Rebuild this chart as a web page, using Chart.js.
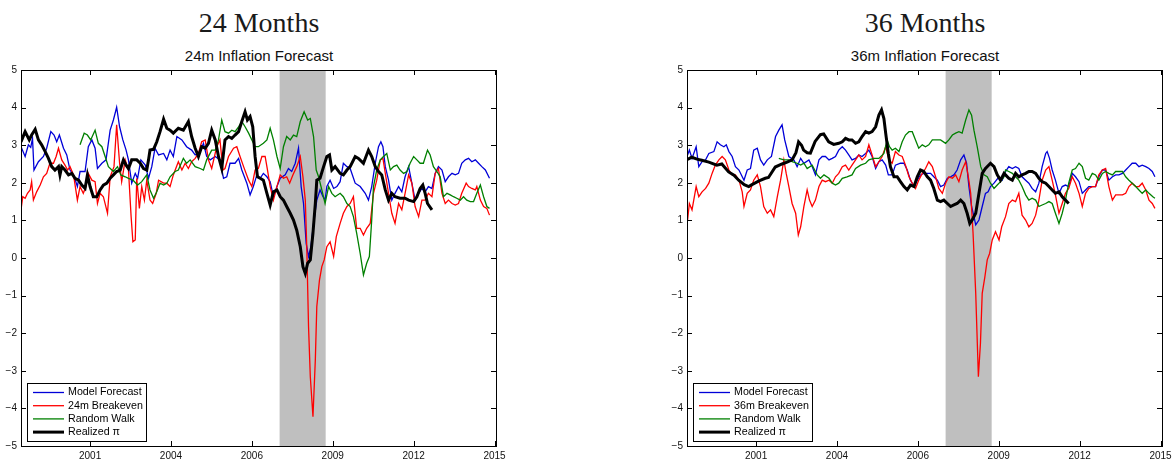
<!DOCTYPE html>
<html>
<head>
<meta charset="utf-8">
<script src="https://cdn.jsdelivr.net/npm/chart.js@4.4.1/dist/chart.umd.min.js"></script>
<style>
  body { margin: 0; background: #fff; width: 1175px; height: 462px; position: relative; overflow: hidden; }
  canvas { position: absolute; top: 0; }
  .bigTitle { position: absolute; top: 7px; width: 300px; margin-left: -150px; text-align: center;
              font-family: "Liberation Serif", serif; font-size: 28px; line-height: 32px; color: #1a1a1a; }
  .smallTitle { position: absolute; top: 48px; width: 300px; margin-left: -150px; text-align: center;
                font-family: "Liberation Sans", Arial, sans-serif; font-size: 15px; line-height: 16px; color: #111; }
</style>
</head>
<body>
<div class="bigTitle" style="left:259px">24 Months</div>
<div class="smallTitle" style="left:259px">24m Inflation Forecast</div>
<div class="bigTitle" style="left:925px">36 Months</div>
<div class="smallTitle" style="left:925px">36m Inflation Forecast</div>
<canvas id="chart24" width="509" height="462" style="left:0"></canvas>
<canvas id="chart36" width="509" height="462" style="left:666px"></canvas>
<script>
// x axis: decimal years; MATLAB datetick put the ticks every 1000 days
const xTickValues = [2001.40, 2004.14, 2006.88, 2009.62, 2012.36, 2015.10];
const xTickLabels = ['2001', '2004', '2006', '2009', '2012', '2015'];
const yTickValues = [-5, -4, -3, -2, -1, 0, 1, 2, 3, 4, 5];
const recession = [2007.82, 2009.38];

const labels24 = ['Model Forecast', '24m Breakeven', 'Random Walk', 'Realized \u03c0'];
const labels36 = ['Model Forecast', '36m Breakeven', 'Random Walk', 'Realized \u03c0'];

// ---- 24 month horizon ----
const model24 = [[1999.06,2.96],[1999.20,2.70],[1999.31,3.01],[1999.39,2.94],[1999.45,3.18],[1999.50,2.34],[1999.65,2.56],[1999.82,2.70],[1999.93,2.92],[2000.07,3.36],[2000.18,3.27],[2000.27,3.09],[2000.36,3.27],[2000.50,2.92],[2000.61,2.74],[2000.72,2.34],[2000.84,2.21],[2000.97,1.90],[2001.06,2.30],[2001.23,2.30],[2001.34,2.96],[2001.46,3.14],[2001.57,2.92],[2001.65,2.38],[2001.80,2.52],[2001.94,2.61],[2002.08,3.40],[2002.19,3.67],[2002.30,4.01],[2002.40,3.49],[2002.51,3.14],[2002.62,2.87],[2002.70,2.61],[2002.81,1.99],[2002.93,2.25],[2003.01,2.12],[2003.12,2.61],[2003.27,2.47],[2003.38,2.12],[2003.49,2.43],[2003.60,2.92],[2003.72,2.74],[2003.89,2.78],[2004.00,2.61],
  [2004.11,2.87],[2004.22,2.70],[2004.34,3.23],[2004.51,3.14],[2004.67,2.96],[2004.84,2.87],[2004.96,2.74],[2005.13,2.83],[2005.24,3.05],[2005.35,2.70],[2005.47,2.61],[2005.64,2.70],[2005.80,2.61],[2005.92,2.12],[2006.03,2.16],[2006.14,2.52],[2006.31,2.52],[2006.43,2.65],[2006.54,2.34],[2006.71,1.99],[2006.82,1.68],[2006.93,1.90],[2007.05,2.21],[2007.16,2.12],[2007.27,2.25],[2007.39,2.16],[2007.50,2.03],[2007.61,1.63],[2007.73,1.90],[2007.84,2.12],[2008.01,2.21],[2008.12,2.38],[2008.23,2.30],[2008.35,2.52],[2008.46,2.92],[2008.55,1.90],[2008.63,1.45],[2008.72,0.39],[2008.80,0.04],[2008.88,0.30],[2008.97,0.92],[2009.08,1.54],[2009.19,1.81],[2009.29,1.63],[2009.36,1.54],[2009.42,1.90],[2009.53,2.07],[2009.65,1.85],[2009.76,1.90],
  [2009.87,2.03],[2009.98,2.52],[2010.10,2.43],[2010.21,2.38],[2010.38,1.99],[2010.55,1.90],[2010.72,1.72],[2010.83,1.54],[2010.94,1.90],[2011.06,2.52],[2011.17,2.96],[2011.25,3.09],[2011.32,2.96],[2011.40,2.43],[2011.51,2.07],[2011.62,1.54],[2011.73,1.72],[2011.85,1.90],[2011.96,1.76],[2012.07,2.16],[2012.19,2.43],[2012.30,1.99],[2012.41,1.54],[2012.53,1.72],[2012.64,1.85],[2012.75,1.76],[2012.86,1.90],[2012.98,1.85],[2013.09,2.25],[2013.20,2.43],[2013.32,2.34],[2013.43,2.03],[2013.54,2.16],[2013.66,2.25],[2013.77,2.21],[2013.88,2.25],[2013.99,2.52],[2014.11,2.61],[2014.22,2.65],[2014.33,2.56],[2014.45,2.61],[2014.56,2.52],[2014.67,2.43],[2014.79,2.34],[2014.93,2.12]];

const breakeven24 = [[1999.06,1.28],[1999.12,1.63],[1999.20,1.59],[1999.28,1.72],[1999.37,1.81],[1999.42,2.03],[1999.48,1.54],[1999.59,1.76],[1999.71,1.94],[1999.82,2.16],[1999.93,2.25],[2000.04,2.52],[2000.16,2.52],[2000.25,2.70],[2000.33,2.92],[2000.44,2.61],[2000.55,2.47],[2000.64,2.34],[2000.72,2.43],[2000.84,2.21],[2000.97,1.54],[2001.06,1.90],[2001.17,1.72],[2001.26,1.90],[2001.34,2.25],[2001.46,2.07],[2001.57,2.03],[2001.65,1.45],[2001.74,1.72],[2001.85,1.63],[2001.99,1.19],[2002.08,2.16],[2002.21,2.43],[2002.30,3.54],[2002.40,2.52],[2002.47,2.03],[2002.59,2.61],[2002.70,2.34],[2002.79,1.10],[2002.85,0.43],[2002.93,0.48],[2002.98,2.12],[2003.07,1.32],[2003.15,1.90],[2003.24,1.54],[2003.32,2.07],[2003.43,1.54],[2003.52,1.45],[2003.64,1.72],[2003.72,2.07],[2003.89,1.99],[2004.00,1.99],
  [2004.11,1.90],[2004.22,2.21],[2004.39,2.56],[2004.51,2.34],[2004.62,2.52],[2004.73,2.38],[2004.84,2.56],[2004.96,2.65],[2005.07,2.78],[2005.18,3.09],[2005.30,3.14],[2005.41,2.61],[2005.52,2.38],[2005.69,2.96],[2005.80,3.14],[2005.90,2.34],[2005.97,2.38],[2006.09,2.70],[2006.26,2.92],[2006.37,2.96],[2006.48,2.70],[2006.60,2.43],[2006.77,2.07],[2006.88,1.90],[2006.99,2.34],[2007.10,2.38],[2007.22,2.70],[2007.33,2.70],[2007.41,2.34],[2007.50,1.90],[2007.61,1.54],[2007.73,1.90],[2007.84,2.21],[2007.95,2.12],[2008.06,2.16],[2008.16,1.99],[2008.27,2.21],[2008.40,2.43],[2008.52,2.70],[2008.61,2.16],[2008.69,1.54],[2008.74,0.30],[2008.80,-1.83],[2008.86,-3.16],[2008.95,-4.22],[2009.03,-2.71],[2009.08,-1.29],[2009.17,-0.59],[2009.25,-0.23],[2009.33,-0.05],[2009.42,0.30],[2009.53,0.43],[2009.65,0.04],[2009.74,0.57],
  [2009.87,0.92],[2009.98,1.19],[2010.10,1.37],[2010.21,1.45],[2010.32,1.63],[2010.43,0.79],[2010.55,0.79],[2010.66,0.61],[2010.77,0.79],[2010.89,0.92],[2011.00,1.72],[2011.11,2.07],[2011.23,2.61],[2011.32,2.65],[2011.40,2.25],[2011.51,1.72],[2011.62,1.19],[2011.73,0.92],[2011.85,1.45],[2011.96,1.28],[2012.07,1.72],[2012.19,2.21],[2012.30,1.99],[2012.41,1.37],[2012.53,1.10],[2012.64,1.54],[2012.75,1.54],[2012.86,1.72],[2012.98,1.63],[2013.09,2.25],[2013.20,2.38],[2013.32,1.72],[2013.43,1.45],[2013.54,1.54],[2013.66,1.45],[2013.77,1.41],[2013.88,1.45],[2013.99,1.72],[2014.14,1.99],[2014.22,1.90],[2014.33,1.85],[2014.45,1.81],[2014.50,1.90],[2014.62,1.54],[2014.73,1.37],[2014.84,1.32],[2014.93,1.14]];

const randomWalk24 = [[2001.06,3.01],[2001.20,3.32],[2001.31,3.27],[2001.42,3.14],[2001.57,3.40],[2001.68,3.05],[2001.80,2.96],[2001.91,2.70],[2002.02,2.43],[2002.19,2.30],[2002.33,2.43],[2002.44,2.21],[2002.59,2.16],[2002.70,2.12],[2002.85,2.07],[2003.01,1.94],[2003.15,2.03],[2003.32,2.21],[2003.43,1.81],[2003.55,1.59],[2003.66,1.76],[2003.77,1.99],[2003.89,1.94],[2004.00,1.99],
  [2004.11,2.16],[2004.28,2.30],[2004.39,2.34],[2004.56,2.65],[2004.67,2.52],[2004.79,2.61],[2004.96,2.43],[2005.13,2.38],[2005.24,2.34],[2005.35,2.61],[2005.52,2.87],[2005.64,2.87],[2005.75,3.14],[2005.86,3.67],[2005.97,3.36],[2006.09,3.32],[2006.20,3.40],[2006.31,3.36],[2006.43,3.49],[2006.54,3.63],[2006.65,3.49],[2006.77,3.32],[2006.88,3.14],[2006.99,2.96],[2007.10,2.96],[2007.27,3.05],[2007.39,3.14],[2007.50,3.45],[2007.61,3.14],[2007.73,2.70],[2007.84,2.38],[2007.95,2.96],[2008.06,3.23],[2008.18,3.14],[2008.29,3.27],[2008.40,3.23],[2008.52,3.63],[2008.65,3.89],[2008.77,3.67],[2008.86,3.71],[2008.97,3.23],[2009.06,2.34],[2009.14,2.16],[2009.25,1.81],[2009.36,1.45],[2009.48,1.90],[2009.59,1.72],[2009.70,1.63],
  [2009.87,1.72],[2009.98,1.63],[2010.10,1.45],[2010.21,1.37],[2010.32,1.10],[2010.43,0.66],[2010.55,0.12],[2010.66,-0.45],[2010.77,-0.14],[2010.86,0.04],[2010.94,1.01],[2011.00,1.90],[2011.11,2.34],[2011.23,2.61],[2011.34,2.70],[2011.45,2.78],[2011.57,2.34],[2011.68,2.43],[2011.79,2.47],[2011.90,2.34],[2012.02,2.25],[2012.13,2.30],[2012.24,2.52],[2012.36,2.70],[2012.47,2.61],[2012.58,2.52],[2012.69,2.52],[2012.83,2.87],[2012.92,2.74],[2013.03,2.43],[2013.15,2.30],[2013.26,2.16],[2013.37,1.63],[2013.49,1.72],[2013.60,1.68],[2013.71,1.63],[2013.82,1.59],[2013.94,1.54],[2014.05,1.63],[2014.16,1.54],[2014.28,1.50],[2014.39,1.50],[2014.50,1.72],[2014.62,1.94],[2014.73,1.63],[2014.84,1.37],[2014.93,1.32]];

const realized24 = [[1999.06,3.09],[1999.20,3.36],[1999.34,3.14],[1999.42,3.27],[1999.54,3.42],[1999.65,3.14],[1999.76,3.01],[1999.88,2.83],[1999.99,2.65],[2000.10,2.43],[2000.21,2.34],[2000.33,2.43],[2000.38,2.21],[2000.44,2.43],[2000.55,2.34],[2000.67,2.21],[2000.78,2.25],[2000.89,2.12],[2001.01,2.07],[2001.12,1.94],[2001.23,1.85],[2001.31,2.21],[2001.40,1.90],[2001.51,1.63],[2001.63,1.63],[2001.74,1.81],[2001.85,1.94],[2001.97,1.99],[2002.08,2.12],[2002.19,2.21],[2002.30,2.30],[2002.42,2.34],[2002.53,2.61],[2002.62,2.47],[2002.70,2.38],[2002.81,2.61],[2002.98,2.61],[2003.10,2.52],[2003.21,2.38],[2003.32,2.34],[2003.38,2.61],[2003.43,2.87],[2003.55,2.89],[2003.66,3.09],[2003.77,3.36],[2003.89,3.69],[2004.00,3.45],
  [2004.11,3.40],[2004.22,3.32],[2004.39,3.45],[2004.56,3.40],[2004.73,3.63],[2004.84,3.23],[2004.96,2.92],[2005.07,2.70],[2005.18,2.96],[2005.30,2.92],[2005.41,3.05],[2005.52,3.40],[2005.64,3.14],[2005.75,2.70],[2005.86,2.38],[2005.97,3.14],[2006.09,3.23],[2006.20,3.18],[2006.31,3.27],[2006.43,3.36],[2006.54,3.63],[2006.65,3.89],[2006.73,3.67],[2006.82,3.76],[2006.91,3.49],[2006.99,2.70],[2007.07,2.16],[2007.16,2.12],[2007.27,2.07],[2007.39,1.72],[2007.50,1.41],[2007.61,1.76],[2007.73,1.81],[2007.84,1.63],[2007.95,1.54],[2008.06,1.37],[2008.18,1.19],[2008.29,1.01],[2008.40,0.74],[2008.52,0.30],[2008.61,-0.23],[2008.69,-0.41],[2008.77,-0.14],[2008.86,-0.05],[2008.95,0.66],[2009.03,1.45],[2009.08,2.07],[2009.19,2.12],[2009.31,2.43],[2009.42,2.70],[2009.51,2.74],[2009.59,2.34],[2009.70,2.43],
  [2009.87,2.25],[2009.98,2.21],[2010.10,2.34],[2010.21,2.43],[2010.38,2.70],[2010.49,2.65],[2010.66,2.52],[2010.83,2.87],[2010.94,2.70],[2011.06,2.43],[2011.17,2.30],[2011.28,2.21],[2011.40,1.81],[2011.51,1.54],[2011.62,1.72],[2011.73,1.63],[2011.90,1.59],[2012.07,1.59],[2012.19,1.54],[2012.36,1.50],[2012.47,1.63],[2012.58,1.85],[2012.67,1.94],[2012.75,1.72],[2012.83,1.45],[2012.98,1.28]];

// ---- 36 month horizon ----
const model36 = [[1999.08,2.74],[1999.14,2.87],[1999.23,2.65],[1999.37,2.96],[1999.46,2.43],[1999.57,2.56],[1999.69,2.61],[1999.80,2.78],[1999.97,2.83],[2000.08,3.09],[2000.19,3.01],[2000.31,2.96],[2000.39,3.01],[2000.48,2.83],[2000.59,2.70],[2000.70,2.43],[2000.82,2.34],[2000.99,2.07],[2001.10,2.34],[2001.21,2.38],[2001.32,2.87],[2001.44,2.92],[2001.55,2.61],[2001.66,2.47],[2001.78,2.61],[2001.92,2.70],[2002.06,3.23],[2002.17,3.40],[2002.28,3.54],[2002.37,3.14],[2002.51,2.70],[2002.68,2.61],[2002.79,2.43],[2002.91,2.65],[2003.02,2.52],[2003.19,2.61],[2003.30,2.43],[2003.41,2.21],[2003.53,2.61],[2003.64,2.70],[2003.75,2.70],[2003.87,2.61],[2003.98,2.65],
  [2004.09,2.70],[2004.20,2.87],[2004.32,2.96],[2004.43,2.87],[2004.54,2.74],[2004.65,2.61],[2004.77,2.65],[2004.88,2.74],[2004.99,2.70],[2005.11,2.78],[2005.22,2.87],[2005.33,2.70],[2005.45,2.38],[2005.56,2.56],[2005.67,2.61],[2005.79,2.47],[2005.88,2.21],[2006.01,2.21],[2006.12,2.47],[2006.29,2.52],[2006.41,2.52],[2006.52,2.34],[2006.63,2.07],[2006.75,1.90],[2006.86,2.07],[2006.97,2.21],[2007.08,2.25],[2007.20,2.25],[2007.31,2.25],[2007.42,2.16],[2007.54,2.07],[2007.65,1.90],[2007.76,1.94],[2007.88,2.12],[2007.99,2.16],[2008.10,2.21],[2008.21,2.34],[2008.33,2.61],[2008.44,2.74],[2008.53,2.52],[2008.61,1.90],[2008.70,1.37],[2008.78,1.10],[2008.84,0.88],[2008.95,1.01],[2009.06,1.37],[2009.17,1.72],[2009.26,1.76],[2009.34,1.90],[2009.46,1.99],[2009.63,2.16],[2009.74,2.07],
  [2009.85,2.30],[2009.96,2.43],[2010.08,2.38],[2010.19,2.43],[2010.30,2.38],[2010.41,2.16],[2010.53,2.07],[2010.64,1.99],[2010.75,1.85],[2010.87,1.76],[2010.98,1.99],[2011.09,2.43],[2011.21,2.78],[2011.26,2.83],[2011.34,2.65],[2011.43,2.34],[2011.54,2.07],[2011.66,1.72],[2011.77,1.90],[2011.88,1.94],[2011.99,1.90],[2012.11,2.25],[2012.22,2.16],[2012.34,2.03],[2012.45,1.72],[2012.56,1.81],[2012.67,1.90],[2012.79,1.90],[2012.90,1.90],[2013.01,2.16],[2013.13,2.34],[2013.24,2.34],[2013.35,2.07],[2013.47,2.16],[2013.58,2.21],[2013.69,2.21],[2013.81,2.25],[2013.92,2.34],[2014.03,2.43],[2014.14,2.52],[2014.26,2.52],[2014.37,2.43],[2014.48,2.47],[2014.60,2.43],[2014.71,2.38],[2014.82,2.30],[2014.91,2.16]];

const breakeven36 = [[1999.08,1.01],[1999.14,1.45],[1999.23,1.28],[1999.37,1.90],[1999.46,1.63],[1999.57,1.76],[1999.69,1.85],[1999.80,1.99],[1999.91,2.25],[2000.02,2.47],[2000.14,2.61],[2000.25,2.70],[2000.36,2.61],[2000.48,2.34],[2000.59,2.21],[2000.70,2.21],[2000.82,2.07],[2000.93,1.76],[2000.99,1.37],[2001.10,1.72],[2001.21,1.81],[2001.32,2.07],[2001.44,2.21],[2001.55,1.90],[2001.66,1.37],[2001.78,1.19],[2001.89,1.28],[2002.00,1.10],[2002.12,1.63],[2002.23,2.07],[2002.34,2.61],[2002.42,2.25],[2002.51,1.90],[2002.62,1.45],[2002.74,1.19],[2002.83,0.61],[2002.91,0.83],[2003.02,1.37],[2003.13,1.81],[2003.21,1.54],[2003.30,1.37],[2003.41,1.54],[2003.53,1.90],[2003.64,2.07],[2003.75,2.03],[2003.87,2.07],[2003.98,1.99],
  [2004.09,2.16],[2004.20,2.25],[2004.32,2.43],[2004.43,2.47],[2004.54,2.34],[2004.65,2.47],[2004.77,2.61],[2004.88,2.74],[2004.99,2.61],[2005.11,2.70],[2005.22,3.01],[2005.33,2.74],[2005.45,2.43],[2005.56,2.56],[2005.67,2.70],[2005.79,2.96],[2005.90,2.61],[2006.01,2.52],[2006.12,2.83],[2006.24,2.74],[2006.35,2.70],[2006.46,2.47],[2006.58,2.16],[2006.69,1.99],[2006.80,1.85],[2006.91,2.07],[2007.03,2.25],[2007.14,2.38],[2007.25,2.56],[2007.37,2.43],[2007.48,2.16],[2007.59,1.85],[2007.71,1.72],[2007.82,1.99],[2007.93,2.16],[2008.05,2.12],[2008.16,2.21],[2008.27,2.03],[2008.38,2.34],[2008.50,2.56],[2008.59,2.16],[2008.67,1.72],[2008.75,0.66],[2008.84,-0.94],[2008.93,-3.16],[2009.00,-2.27],[2009.06,-0.94],[2009.15,-0.50],[2009.23,-0.05],[2009.31,0.12],[2009.40,0.48],[2009.51,0.70],[2009.63,0.48],[2009.72,0.83],
  [2009.85,1.10],[2009.96,1.45],[2010.08,1.54],[2010.19,1.50],[2010.30,1.72],[2010.41,1.14],[2010.53,1.01],[2010.64,0.83],[2010.75,0.92],[2010.87,1.14],[2010.98,1.54],[2011.09,2.07],[2011.21,2.34],[2011.32,2.43],[2011.43,2.07],[2011.54,1.68],[2011.66,1.19],[2011.77,1.45],[2011.88,1.72],[2011.99,1.85],[2012.11,2.16],[2012.22,1.99],[2012.34,1.72],[2012.45,1.37],[2012.56,1.72],[2012.67,1.85],[2012.79,1.90],[2012.90,1.90],[2013.01,2.21],[2013.13,2.34],[2013.24,2.38],[2013.35,1.90],[2013.47,1.54],[2013.58,1.68],[2013.69,1.68],[2013.81,1.68],[2013.92,1.72],[2014.03,1.90],[2014.14,1.99],[2014.26,1.90],[2014.37,1.90],[2014.48,1.99],[2014.60,1.81],[2014.71,1.54],[2014.82,1.45],[2014.91,1.32]];

const randomWalk36 = [[2002.17,2.65],[2002.34,2.61],[2002.51,2.61],[2002.62,2.56],[2002.79,2.52],[2002.91,2.47],[2003.02,2.52],[2003.13,2.38],[2003.30,2.47],[2003.47,2.21],[2003.58,2.12],[2003.70,2.21],[2003.87,2.12],[2003.98,1.99],
  [2004.09,1.94],[2004.20,1.99],[2004.32,2.12],[2004.48,2.16],[2004.65,2.21],[2004.77,2.38],[2004.94,2.47],[2005.11,2.52],[2005.22,2.61],[2005.39,2.65],[2005.56,2.65],[2005.73,2.78],[2005.84,3.14],[2005.92,2.96],[2006.01,2.87],[2006.12,2.92],[2006.24,2.83],[2006.35,3.09],[2006.46,3.27],[2006.58,3.36],[2006.69,3.36],[2006.80,3.14],[2006.91,2.92],[2007.03,3.01],[2007.14,2.96],[2007.25,3.01],[2007.37,3.14],[2007.48,3.14],[2007.65,3.14],[2007.82,3.05],[2007.93,3.14],[2008.05,3.27],[2008.16,3.32],[2008.27,3.36],[2008.38,3.32],[2008.50,3.67],[2008.61,3.94],[2008.70,3.80],[2008.78,3.40],[2008.89,2.96],[2009.01,2.43],[2009.12,2.21],[2009.23,2.16],[2009.34,1.99],[2009.46,1.85],[2009.57,1.94],[2009.68,2.03],[2009.80,2.16],
  [2009.85,2.34],[2009.96,2.30],[2010.08,2.25],[2010.19,2.16],[2010.30,2.07],[2010.41,1.90],[2010.53,1.68],[2010.64,1.54],[2010.75,1.59],[2010.87,1.54],[2010.98,1.37],[2011.09,1.41],[2011.21,1.45],[2011.32,1.50],[2011.43,1.45],[2011.54,1.19],[2011.66,0.92],[2011.77,1.19],[2011.88,1.54],[2011.99,1.99],[2012.11,2.34],[2012.22,2.38],[2012.34,2.52],[2012.45,2.43],[2012.56,2.12],[2012.67,2.07],[2012.79,2.25],[2012.90,2.21],[2013.01,2.07],[2013.13,2.25],[2013.24,2.30],[2013.35,2.25],[2013.47,2.21],[2013.58,2.30],[2013.69,2.30],[2013.81,2.30],[2013.92,2.16],[2014.03,2.07],[2014.14,1.99],[2014.26,1.90],[2014.37,1.81],[2014.48,1.72],[2014.60,1.81],[2014.71,1.72],[2014.84,1.63],[2014.91,1.59]];

const realized36 = [[1999.08,2.62],[1999.22,2.68],[1999.40,2.63],[1999.56,2.60],[1999.80,2.55],[2000.07,2.47],[2000.24,2.50],[2000.47,2.29],[2000.65,2.20],[2000.81,2.07],[2001.00,1.95],[2001.15,1.90],[2001.26,1.95],[2001.50,2.05],[2001.71,2.12],[2001.82,2.14],[2002.05,2.42],[2002.28,2.50],[2002.45,2.55],[2002.62,2.61],[2002.75,2.80],[2002.84,3.09],[2002.94,3.00],[2003.01,2.87],[2003.13,2.80],[2003.24,2.79],[2003.40,3.10],[2003.58,3.28],[2003.69,3.30],[2003.86,3.09],[2004.03,3.02],
  [2004.20,3.05],[2004.32,3.09],[2004.43,3.18],[2004.54,3.14],[2004.65,3.14],[2004.77,3.05],[2004.88,3.09],[2004.99,3.23],[2005.11,3.36],[2005.22,3.32],[2005.33,3.36],[2005.45,3.49],[2005.56,3.80],[2005.65,3.94],[2005.73,3.71],[2005.79,3.32],[2005.88,2.78],[2005.95,2.43],[2006.07,2.16],[2006.18,2.16],[2006.29,2.03],[2006.41,1.90],[2006.52,1.81],[2006.63,1.94],[2006.75,1.90],[2006.86,2.16],[2006.97,2.34],[2007.08,2.30],[2007.20,2.16],[2007.31,2.07],[2007.42,1.85],[2007.54,1.54],[2007.65,1.50],[2007.76,1.54],[2007.88,1.45],[2007.99,1.37],[2008.10,1.41],[2008.21,1.45],[2008.33,1.54],[2008.44,1.45],[2008.55,1.19],[2008.64,0.92],[2008.72,1.01],[2008.84,1.19],[2008.95,1.72],[2009.06,2.25],[2009.17,2.38],[2009.34,2.52],[2009.46,2.43],[2009.57,2.21],[2009.68,2.07],[2009.80,2.25],
  [2009.96,2.12],[2010.08,2.07],[2010.19,2.25],[2010.30,2.16],[2010.41,2.21],[2010.53,2.25],[2010.64,2.30],[2010.75,2.30],[2010.87,2.25],[2010.98,2.12],[2011.09,2.03],[2011.21,1.99],[2011.32,1.90],[2011.43,1.81],[2011.54,1.72],[2011.66,1.76],[2011.77,1.63],[2011.88,1.54],[2011.99,1.45]];

const seriesColors = ['#0000d8', '#ff0000', '#008000', '#000000'];
const seriesWidths = [1.3, 1.3, 1.3, 3];

// shading, box with inward ticks on all four sides, legend in the lower left corner
const matlabAxes = {
    id: 'matlabAxes',
    beforeDatasetsDraw(chart) {
        const { ctx, chartArea: a, scales: { x } } = chart;
        const x0 = x.getPixelForValue(recession[0]);
        const x1 = x.getPixelForValue(recession[1]);
        ctx.save();
        ctx.fillStyle = '#bfbfbf';
        ctx.fillRect(x0, a.top + 1, x1 - x0, a.bottom - a.top - 1);
        ctx.restore();
    },
    afterDatasetsDraw(chart) {
        const { ctx, chartArea: a, scales: { x, y } } = chart;
        ctx.save();
        ctx.strokeStyle = '#000';
        ctx.lineWidth = 1;
        ctx.strokeRect(a.left + 0.5, a.top + 0.5, a.right - a.left, a.bottom - a.top);
        ctx.beginPath();
        xTickValues.forEach(v => {
            const px = Math.round(x.getPixelForValue(v)) + 0.5;
            ctx.moveTo(px, a.bottom); ctx.lineTo(px, a.bottom - 5);
            ctx.moveTo(px, a.top); ctx.lineTo(px, a.top + 5);
        });
        yTickValues.forEach(v => {
            const py = Math.round(y.getPixelForValue(v)) + 0.5;
            ctx.moveTo(a.left, py); ctx.lineTo(a.left + 5, py);
            ctx.moveTo(a.right, py); ctx.lineTo(a.right - 5, py);
        });
        ctx.stroke();

        // legend
        const bx = a.left + 6, by = a.bottom - 63, bw = 119, bh = 58;
        ctx.fillStyle = '#fff';
        ctx.fillRect(bx, by, bw, bh);
        ctx.strokeRect(bx + 0.5, by + 0.5, bw, bh);
        ctx.font = '10.7px "Liberation Sans", Arial, sans-serif';
        ctx.textBaseline = 'middle';
        chart.data.datasets.forEach((ds, i) => {
            const ly = by + 9.5 + i * 13.2;
            ctx.strokeStyle = ds.borderColor;
            ctx.lineWidth = ds.borderWidth;
            ctx.beginPath();
            ctx.moveTo(bx + 6, ly); ctx.lineTo(bx + 37, ly);
            ctx.stroke();
            ctx.fillStyle = '#000';
            ctx.fillText(ds.label, bx + 41, ly);
        });
        ctx.restore();
    }
};

function makeChart(id, series, labels) {
    const datasets = series.map((pts, i) => ({
        label: labels[i],
        data: pts.map(p => ({ x: p[0], y: p[1] })),
        borderColor: seriesColors[i],
        borderWidth: seriesWidths[i],
        pointRadius: 0,
        tension: 0,
        fill: false,
        order: 3 - i
    }));
    const tickFont = { family: '"Liberation Sans", Arial, sans-serif', size: 10 };
    return new Chart(document.getElementById(id), {
        type: 'line',
        data: { datasets: datasets },
        options: {
            responsive: false,
            animation: false,
            devicePixelRatio: 1,
            layout: { padding: { left: 0, top: 70, right: 13, bottom: 0 } },
            plugins: { legend: { display: false }, tooltip: { enabled: false } },
            scales: {
                x: {
                    type: 'linear',
                    min: 1999.06,
                    max: 2015.15,
                    grid: { display: false, drawTicks: false },
                    border: { display: false },
                    afterBuildTicks: scale => { scale.ticks = xTickValues.map(v => ({ value: v })); },
                    ticks: {
                        autoSkip: false,
                        maxRotation: 0,
                        padding: 4,
                        color: '#111',
                        font: tickFont,
                        callback: (v, i) => xTickLabels[i]
                    },
                    afterFit: scale => {
                        scale.height = 16;
                        scale.paddingLeft = 0; scale.paddingRight = 0;
                    }
                },
                y: {
                    min: -5,
                    max: 5,
                    grid: { display: false, drawTicks: false },
                    border: { display: false },
                    afterBuildTicks: scale => { scale.ticks = yTickValues.map(v => ({ value: v })); },
                    ticks: {
                        padding: 4,
                        color: '#111',
                        font: tickFont,
                        callback: v => (v < 0 ? '\u2212' + Math.abs(v) : String(v))
                    },
                    afterFit: scale => {
                        scale.width = 21;
                        scale.paddingTop = 0; scale.paddingBottom = 0;
                    }
                }
            }
        },
        plugins: [matlabAxes]
    });
}

makeChart('chart24', [model24, breakeven24, randomWalk24, realized24], labels24);
makeChart('chart36', [model36, breakeven36, randomWalk36, realized36], labels36);
</script>
</body>
</html>
